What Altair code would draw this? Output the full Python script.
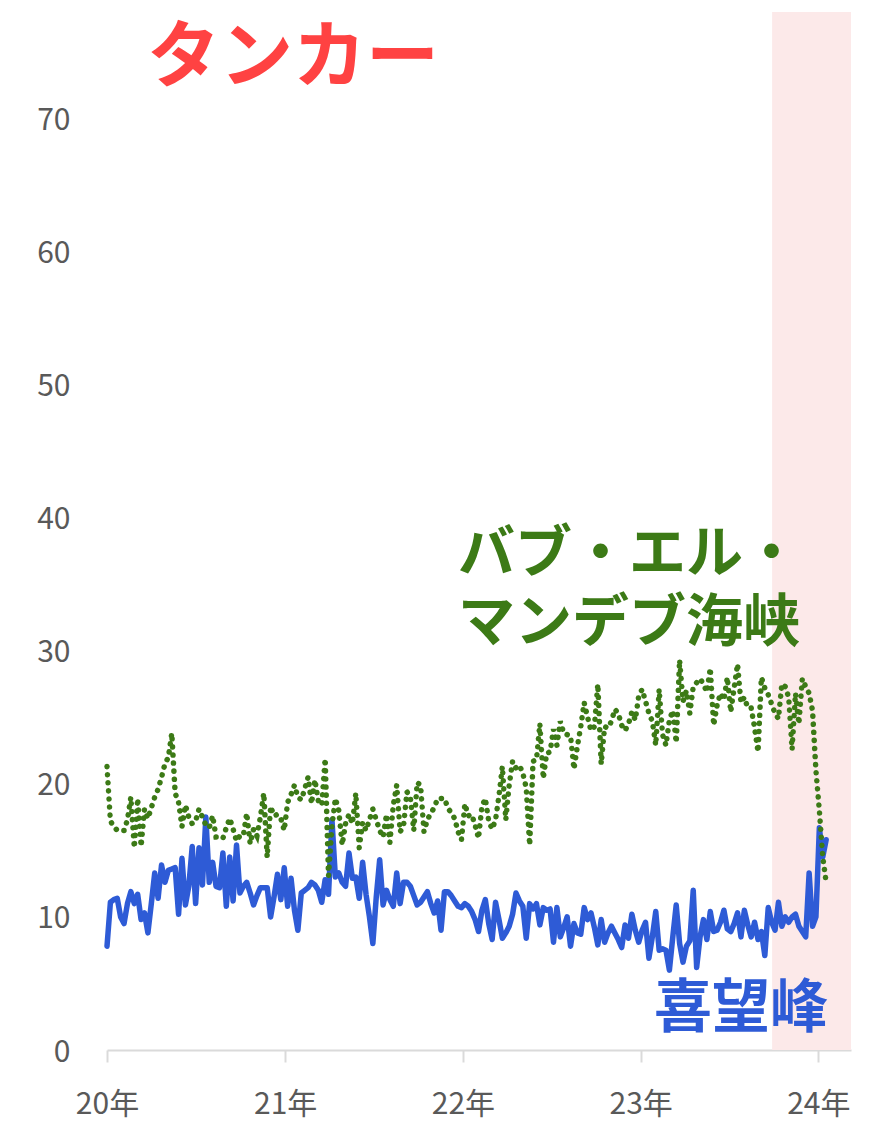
import altair as alt
import pandas as pd

# ---- data (weekly, starting 2020-01-01) ----
cape_values = [
    7.8, 11.1, 11.3, 11.4, 10.0, 9.5, 11.0, 11.9, 11.0, 11.7,
    9.8, 10.3, 8.8, 11.0, 13.3, 11.4, 13.9, 12.6, 13.5, 13.6,
    13.7, 10.2, 14.4, 10.9, 12.3, 15.3, 11.0, 15.2, 12.4, 17.5,
    12.6, 14.1, 12.3, 12.2, 14.8, 10.8, 14.5, 11.2, 15.4, 11.8,
    12.3, 12.6, 11.8, 10.9, 11.6, 12.2, 12.2, 12.2, 10.0, 11.5,
    13.2, 11.3, 13.7, 10.8, 12.9, 10.5, 9.0, 11.8, 12.0, 12.2,
    12.6, 12.4, 12.0, 11.1, 12.8, 11.7, 17.3, 13.0, 13.3, 12.6,
    12.3, 14.8, 12.9, 13.0, 11.4, 14.1, 11.7, 10.0, 8.0, 11.5,
    14.3, 10.9, 12.0, 11.3, 10.8, 13.3, 11.0, 12.6, 12.6, 12.3,
    11.6, 10.9, 11.1, 11.5, 11.9, 11.0, 10.3, 11.2, 9.0, 11.9,
    11.9, 11.6, 11.2, 10.8, 10.7, 11.0, 10.8, 10.4, 9.8, 8.9,
    10.5, 11.3, 9.5, 8.3, 11.1, 9.8, 8.4, 8.8, 9.3, 10.2,
    11.8, 11.2, 10.8, 8.4, 11.0, 10.6, 11.0, 9.4, 10.7, 10.5,
    10.6, 8.1, 10.7, 8.5, 9.2, 10.0, 7.8, 9.5, 8.8, 8.7,
    10.7, 9.8, 10.3, 9.2, 7.9, 9.8, 8.1, 8.8, 9.3, 8.8,
    8.3, 7.7, 9.4, 8.4, 10.2, 9.0, 8.1, 9.0, 9.6, 6.9,
    8.5, 10.4, 7.5, 7.6, 7.5, 6.0, 8.5, 10.9, 8.0, 6.6,
    7.8, 8.2, 12.0, 6.2, 8.5, 9.8, 8.3, 10.4, 8.9, 9.0,
    9.6, 10.5, 9.1, 8.9, 9.5, 10.3, 8.5, 10.5, 9.4, 8.5,
    9.6, 8.3, 8.9, 7.1, 10.7, 9.6, 9.0, 11.1, 9.3, 10.0,
    9.6, 10.0, 10.2, 9.3, 8.9, 8.5, 13.3, 9.3, 10.0, 16.7,
    14.5, 15.8,
]

bab_values = [
    21.3, 17.2, 16.8, 16.5, 16.5, 16.5, 17.3, 19.0, 15.2, 18.9,
    15.3, 18.1, 17.4, 18.2, 19.0, 19.6, 20.5, 21.5, 22.0, 23.8,
    19.3, 18.6, 16.8, 18.4, 17.5, 17.0, 17.2, 18.1, 17.5, 16.9,
    16.7, 17.6, 16.0, 16.0, 15.9, 16.7, 17.4, 16.6, 15.7, 16.1,
    16.1, 17.8, 15.5, 16.6, 16.1, 17.5, 19.3, 14.5, 18.3, 17.6,
    17.7, 17.4, 16.5, 18.6, 19.2, 19.9, 19.0, 18.8, 19.6, 20.5,
    18.5, 20.3, 18.7, 18.4, 21.9, 13.1, 16.8, 18.9, 18.0, 15.4,
    17.0, 17.7, 17.0, 19.3, 15.2, 17.1, 16.5, 17.3, 18.1, 17.3,
    16.5, 16.0, 17.7, 15.6, 18.4, 19.9, 16.4, 16.8, 19.4, 19.0,
    16.5, 20.1, 19.9, 16.4, 17.3, 17.8, 18.2, 18.9, 18.9, 18.9,
    18.2, 17.8, 17.4, 16.4, 15.8, 18.5, 17.6, 17.7, 16.9, 15.9,
    18.3, 18.9, 17.2, 16.6, 17.3, 19.1, 21.3, 17.3, 19.9, 21.7,
    21.2, 21.4, 20.8, 19.7, 15.4, 21.7, 21.8, 24.5, 20.4, 22.3,
    22.4, 24.1, 22.9, 24.7, 23.8, 23.7, 23.6, 21.1, 22.8, 24.3,
    26.1, 25.0, 24.0, 24.3, 27.5, 21.5, 24.3, 24.2, 24.7, 25.6,
    25.3, 24.4, 24.0, 24.5, 25.4, 24.8, 26.6, 27.1, 26.2, 25.3,
    24.7, 22.9, 27.1, 23.7, 22.9, 24.8, 25.5, 23.1, 29.3, 26.2,
    27.0, 25.3, 27.3, 27.6, 27.9, 27.5, 26.9, 28.7, 24.4, 25.9,
    26.8, 26.3, 28.0, 25.4, 27.2, 29.0, 26.1, 26.5, 25.7, 25.7,
    24.2, 22.4, 28.0, 27.2, 26.7, 26.0, 25.3, 24.9, 27.5, 27.3,
    26.5, 22.6, 26.8, 24.5, 27.9, 27.3, 26.8, 25.5, 21.0, 18.0,
    14.5, 12.6,
]

band_start = ["2023-09-28"]
band_end = ["2024-03-08"]
y_ticks = [0, 10, 20, 30, 40, 50, 60, 70]
x_tick_years = [2020, 2021, 2022, 2023, 2024]

title_text = ["タンカー"]
bab_label_line1 = ["バブ・エル・"]
bab_label_line2 = ["マンデブ海峡"]
cape_label = ["喜望峰"]

# ---- styling ----
W, H = 744, 1038
FONT = "Noto Sans CJK JP"
BLUE = "#2e5bd6"
GREEN = "#3c7a16"
RED = "#ff4242"
GRAY = "#595959"

dates = pd.date_range("2020-01-01", periods=len(cape_values), freq="7D")
df = pd.DataFrame({"date": dates, "cape": cape_values, "bab": bab_values})
band_df = pd.DataFrame({"start": pd.to_datetime(band_start), "end": pd.to_datetime(band_end)})

x_scale = alt.Scale(
    domain=[alt.DateTime(year=2020, month=1, date=1), alt.DateTime(year=2024, month=3, date=8)],
    nice=False,
)
y_scale = alt.Scale(domain=[0, 78], nice=False)

x_axis = alt.Axis(
    title=None, grid=False,
    values=[alt.DateTime(year=y, month=1, date=1) for y in x_tick_years],
    format="%y年",
    domainColor="#dadada", domainWidth=2,
    tickColor="#dadada", tickWidth=2, tickSize=12,
    labelFont=FONT, labelFontSize=30, labelColor=GRAY, labelPadding=27,
    labelFlush=False, labelOverlap=False,
)
y_axis = alt.Axis(
    title=None, grid=False, domain=False, ticks=False,
    values=y_ticks, labelFont=FONT, labelFontSize=30, labelColor=GRAY,
    labelPadding=37, labelOffset=2,
)

band = alt.Chart(band_df).mark_rect(color="#fce9e9").encode(
    x=alt.X("start:T", scale=x_scale, axis=x_axis),
    x2="end:T",
    y=alt.value(0),
    y2=alt.value(H),
)

cape_line = alt.Chart(df).mark_line(
    color=BLUE, strokeWidth=5.5, strokeJoin="round", strokeCap="round"
).encode(
    x=alt.X("date:T", scale=x_scale, axis=x_axis),
    y=alt.Y("cape:Q", scale=y_scale, axis=y_axis),
)

bab_line = alt.Chart(df).mark_line(
    color=GREEN, strokeWidth=5.5, strokeCap="round", strokeDash=[0.1, 8]
).encode(
    x=alt.X("date:T", scale=x_scale, axis=x_axis),
    y=alt.Y("bab:Q", scale=y_scale, axis=y_axis),
)


def label(text, size, color, x, y):
    return alt.Chart(pd.DataFrame({"t": text})).mark_text(
        font=FONT, fontSize=size, fontWeight="bold", color=color,
        align="left", baseline="middle",
    ).encode(text="t:N", x=alt.value(x), y=alt.value(y))


title_mark = label(title_text, 73, RED, 40, 47)
bab_mark1 = label(bab_label_line1, 57, GREEN, 351, 543)
bab_mark2 = label(bab_label_line2, 57, GREEN, 351, 612)
cape_mark = label(cape_label, 58, BLUE, 547, 998)

chart = alt.layer(
    band, cape_line, bab_line, title_mark, bab_mark1, bab_mark2, cape_mark
).properties(
    width=W, height=H,
    padding={"left": 99, "top": 4, "right": 12, "bottom": 80},
    autosize=alt.AutoSizeParams(type="none"),
).configure_view(stroke=None)

chart.save("out.html", embed_options={"renderer": "svg", "actions": False})
